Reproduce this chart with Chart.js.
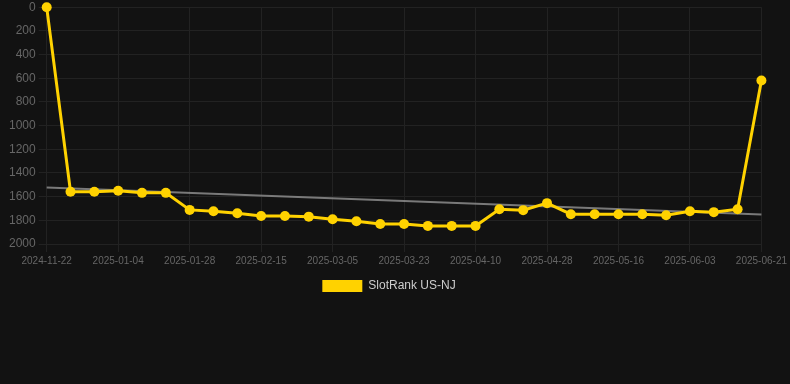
<!DOCTYPE html>
<html><head><meta charset="utf-8">
<script src="https://cdn.jsdelivr.net/npm/chart.js@4/dist/chart.umd.min.js"></script>
<style>
html,body{margin:0;padding:0;background:#121212;overflow:hidden;}
#wrap{width:790px;height:305px;position:relative;margin-top:-3px;}
</style></head>
<body><div id="wrap"><canvas id="c"></canvas></div>
<script>
const labels = ["2024-11-22","2024-12-23","2024-12-29","2025-01-04","2025-01-12","2025-01-20","2025-01-28","2025-02-03","2025-02-09","2025-02-15","2025-02-21","2025-02-27","2025-03-05","2025-03-11","2025-03-17","2025-03-23","2025-03-29","2025-04-04","2025-04-10","2025-04-16","2025-04-22","2025-04-28","2025-05-04","2025-05-10","2025-05-16","2025-05-22","2025-05-28","2025-06-03","2025-06-09","2025-06-15","2025-06-21"];
const rankValues = [1,1559,1559,1550,1568,1568,1712,1723,1740,1763,1763,1769,1791,1808,1831,1831,1847,1847,1847,1706,1714,1655,1748,1748,1748,1748,1757,1723,1731,1706,619];
const trendStart = 1523;
const trendEnd = 1751;
const yTicks = [0,200,400,600,800,1000,1200,1400,1600,1800,2000];

const trendData = labels.map((_, i) => i === 0 ? trendStart : (i === labels.length - 1 ? trendEnd : null));

const font = "Arial, 'Liberation Sans', sans-serif";
const legendShift = {
  id: 'legendShift',
  afterLayout(chart) {
    const lg = chart.legend;
    if (lg) { lg.left += 5; lg.right += 5; }
  }
};
new Chart(document.getElementById('c'), {
  type: 'line',
  plugins: [legendShift],
  data: {
    labels: labels,
    datasets: [
      {
        label: 'SlotRank US-NJ',
        data: rankValues,
        borderColor: '#FFD200',
        backgroundColor: '#FFD200',
        borderWidth: 3,
        pointRadius: 5,
        pointHoverRadius: 6,
        pointBackgroundColor: '#FFD200',
        pointBorderWidth: 0,
        tension: 0,
        clip: false
      },
      {
        label: 'trend',
        data: trendData,
        spanGaps: true,
        borderColor: 'rgba(140,140,140,0.85)',
        borderWidth: 2,
        pointRadius: 0,
        pointHoverRadius: 0,
        fill: false
      }
    ]
  },
  options: {
    responsive: true,
    maintainAspectRatio: false,
    animation: false,
    layout: { padding: { top: 4, right: 28, left: 6, bottom: 0 } },
    plugins: {
      legend: {
        position: 'bottom',
        labels: {
          color: '#cccccc',
          font: { family: font, size: 12 },
          boxWidth: 40,
          boxHeight: 12,
          filter: item => item.text !== 'trend',
          generateLabels: chart => Chart.defaults.plugins.legend.labels.generateLabels(chart).map(it => Object.assign(it, { lineWidth: 0 }))
        }
      },
      tooltip: { enabled: false }
    },
    scales: {
      x: {
        grid: { color: '#222222', tickColor: '#222222' },
        border: { color: '#222222' },
        ticks: {
          color: '#666666',
          font: { family: font, size: 10 },
          maxRotation: 0,
          autoSkip: true,
          callback: function(v, i) { return i % 3 === 0 ? labels[i] : null; }
        }
      },
      y: {
        reverse: true,
        min: 0,
        max: 2000,
        afterBuildTicks: axis => { axis.ticks = yTicks.map(v => ({ value: v })); },
        grid: { color: '#222222', tickColor: '#222222' },
        border: { color: '#222222' },
        ticks: {
          color: '#666666',
          font: { family: font, size: 12 },
          callback: v => String(v)
        }
      }
    }
  }
});
</script></body></html>
